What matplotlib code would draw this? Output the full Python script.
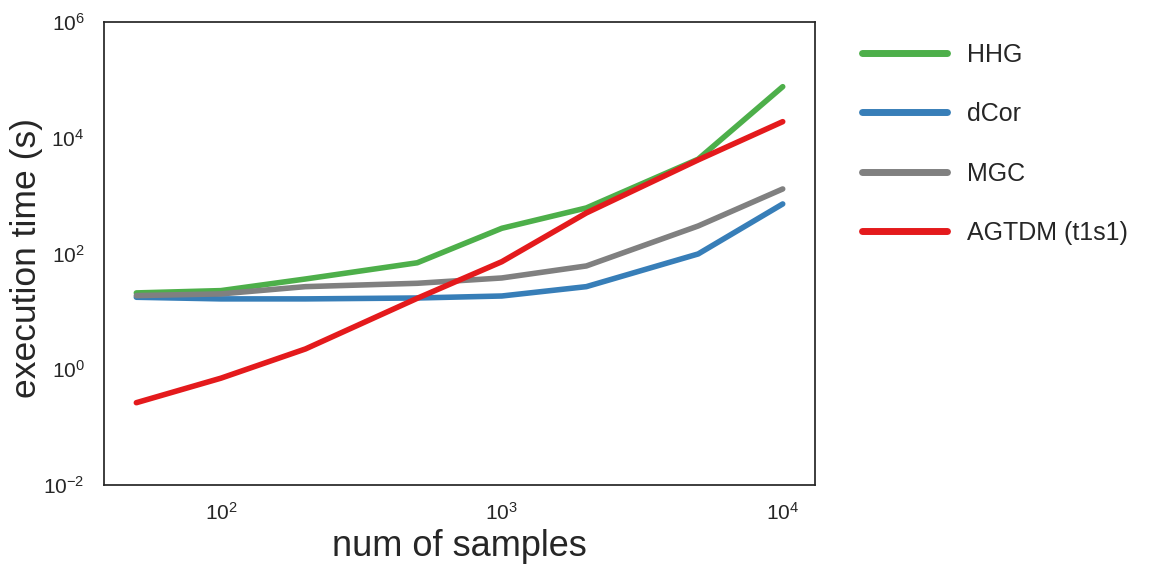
import matplotlib
matplotlib.use("Agg")
import matplotlib.pyplot as plt
import seaborn as sns

sns.set_style("white")
plt.rcParams['font.family'] = ['Liberation Sans', 'DejaVu Sans']
plt.rcParams['mathtext.fontset'] = 'custom'
plt.rcParams['mathtext.rm'] = 'Liberation Sans'
plt.rcParams['mathtext.it'] = 'Liberation Sans:italic'
plt.rcParams['mathtext.bf'] = 'Liberation Sans:bold'
plt.rcParams['text.color'] = '#262626'
plt.rcParams['axes.labelcolor'] = '#262626'
plt.rcParams['xtick.color'] = '#262626'
plt.rcParams['ytick.color'] = '#262626'

n_samples = [50, 100, 200, 500, 1000, 2000, 5000, 10000]
hhg = [20.8, 22.8, 36.2, 69, 272, 611, 4250, 76000]
dcor = [17.5, 16.4, 16.4, 17, 18.4, 26.7, 98, 716]
mgc = [18.7, 20, 26.7, 30.5, 37.7, 60.8, 298, 1300]
agtdm = [0.264, 0.70, 2.24, 16.8, 72, 501, 4130, 18900]

labels = ["HHG", "dCor", "MGC", "AGTDM (t1s1)"]
colors = ["#4daf4a", "#377eb8", "#808080", "#e41a1c"]
series = [hhg, dcor, mgc, agtdm]

fig = plt.figure(figsize=(11.52, 5.76), dpi=100)
ax = fig.add_axes([0.0903, 0.158, 0.6172, 0.804])
for s, lab, c in zip(series, labels, colors):
    ax.plot(n_samples, s, color=c, lw=4, label=lab, solid_capstyle='round')
ax.set_xscale('log')
ax.set_yscale('log')
ax.set_ylim(1e-2, 1e6)
ax.set_yticks([1e-2, 1e0, 1e2, 1e4, 1e6])
ax.minorticks_off()
ax.tick_params(labelsize=15, length=0)
ax.tick_params(axis='x', pad=12)
ax.tick_params(axis='y', pad=14)
ax.set_xlabel("num of samples", fontsize=26, labelpad=4)
ax.set_ylabel("execution time (s)", fontsize=25.5)
ax.yaxis.set_label_coords(-0.086, 0.49)
for sp in ax.spines.values():
    sp.set_color('#262626')
    sp.set_linewidth(1.25)
leg = ax.legend(loc='upper left', bbox_to_anchor=(1.034, 1.004), frameon=False,
                fontsize=18, handlelength=3.4, labelspacing=1.42, handletextpad=0.8)
for l in leg.get_lines():
    l.set_linewidth(5)
fig.savefig("out.png", dpi=100)
